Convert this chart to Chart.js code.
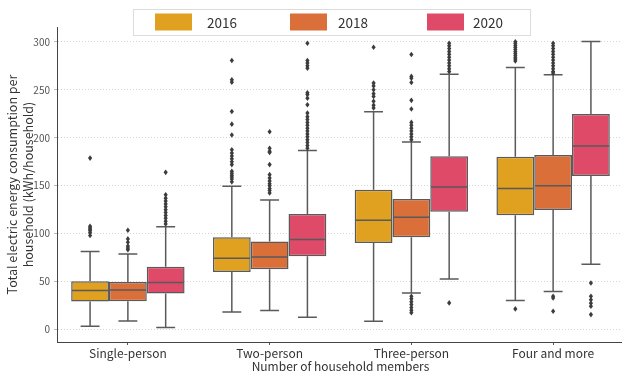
<!DOCTYPE html>
<html>
<head>
<meta charset="utf-8">
<script src="https://cdn.jsdelivr.net/npm/chart.js@4.4.1/dist/chart.umd.min.js"></script>
<style>
  html, body { margin: 0; padding: 0; overflow: hidden; background: #fff; }
  #wrap { width: 624px; height: 374px; position: relative; }
</style>
</head>
<body>
<div id="wrap"><canvas id="c"></canvas></div>
<script>
// Household groups and survey years
const categories = ['Single-person', 'Two-person', 'Three-person', 'Four and more'];
const years = ['2016', '2018', '2020'];
const yTicks = [0, 50, 100, 150, 200, 250, 300];

// Box statistics per year (kWh/household), one value per household group
const q1_2016 = [29.2, 60.1, 90.3, 119.1];
const med_2016 = [40.6, 74.3, 113.9, 147.2];
const q3_2016 = [50.3, 96.2, 145.8, 180.2];
const lo_2016 = [3.5, 18.4, 8.7, 30.2];
const hi_2016 = [81.3, 149.3, 227.0, 273.3];
const out_2016 = [
  [178.8, 107.6, 106, 104.5, 103, 101, 98],
  [280.6, 260.4, 258, 227.4, 214.2, 202.8, 187.5, 184, 181, 178, 175, 172, 165, 163, 161, 159, 157, 154],
  [294.4, 257, 254, 250, 246, 243, 238, 234, 231],
  [300, 298, 296, 294, 292, 290, 288, 286, 284, 282, 280, 21.5]
];

const q1_2018 = [29.5, 62.8, 96.2, 124.7];
const med_2018 = [41.3, 75.7, 117.0, 150.0];
const q3_2018 = [49.6, 91.7, 136.1, 181.9];
const lo_2018 = [9.0, 19.8, 38.2, 39.6];
const hi_2018 = [78.8, 135.0, 195.5, 265.6];
const out_2018 = [
  [103.5, 94.5, 91, 87, 85, 83.3],
  [206.3, 189, 186, 184.7, 172, 161.5, 158, 155, 152, 150, 147, 145, 142.4],
  [286.8, 264, 262, 257.6, 239, 230, 216, 213, 210, 207, 204, 201, 198, 34.7, 32, 29, 26, 23, 20, 17.5],
  [298.6, 296, 293, 290, 287, 284, 281, 278, 275, 272, 269, 267.4, 34.7, 33, 19.1]
];

const q1_2020 = [37.5, 76.4, 122.9, 160.1];
const med_2020 = [49.0, 93.8, 148.6, 191.3];
const q3_2020 = [65.6, 120.5, 180.6, 224.7];
const lo_2020 = [2.0, 12.8, 52.8, 68.1];
const hi_2020 = [107.3, 186.8, 266.3, 300.3];
const out_2020 = [
  [163.9, 140.6, 137, 134, 131, 128, 125, 122, 119, 116, 113, 110],
  [298.6, 280.6, 278, 275, 272.6, 247, 245, 241.3, 234.4, 225.7, 222, 219, 216, 213, 210, 207, 204, 201, 198, 195, 192, 189],
  [298.6, 296, 293, 290, 287, 284, 281, 278, 275, 272, 269, 27.8],
  [48.6, 34.7, 31, 27.5, 24.3, 15.6]
];

const yearColors = ['#E0A120', '#DA6F3A', '#DE4A68'];

const stats = [
  { q1: q1_2016, med: med_2016, q3: q3_2016, lo: lo_2016, hi: hi_2016, out: out_2016 },
  { q1: q1_2018, med: med_2018, q3: q3_2018, lo: lo_2018, hi: hi_2018, out: out_2018 },
  { q1: q1_2020, med: med_2020, q3: q3_2020, lo: lo_2020, hi: hi_2020, out: out_2020 }
];

const FONT = "'Noto Sans CJK KR', 'Noto Sans', sans-serif";
const LINE = '#5a5a5a';

// Boxes are floating bars from Q1 to Q3
const datasets = years.map((yr, d) => ({
  label: yr,
  data: categories.map((_, i) => [stats[d].q1[i], stats[d].q3[i]]),
  backgroundColor: yearColors[d],
  borderColor: LINE,
  borderWidth: 1.5,
  borderSkipped: false,
  barPercentage: 1.0,
  categoryPercentage: 0.8
}));

// Whiskers, caps, medians and outlier diamonds on top of each box
const boxDetails = {
  id: 'boxDetails',
  afterDatasetsDraw(chart) {
    const ctx = chart.ctx;
    const ys = chart.scales.y;
    ctx.save();
    stats.forEach((s, d) => {
      const meta = chart.getDatasetMeta(d);
      meta.data.forEach((bar, i) => {
        const x = bar.x;
        const half = bar.width / 2;
        const cap = bar.width / 4;
        const yQ1 = ys.getPixelForValue(s.q1[i]);
        const yQ3 = ys.getPixelForValue(s.q3[i]);
        const yLo = ys.getPixelForValue(s.lo[i]);
        const yHi = ys.getPixelForValue(s.hi[i]);
        const yMed = ys.getPixelForValue(s.med[i]);
        ctx.strokeStyle = LINE;
        ctx.lineWidth = 1.5;
        ctx.beginPath();
        ctx.moveTo(x, yQ3); ctx.lineTo(x, yHi);
        ctx.moveTo(x, yQ1); ctx.lineTo(x, yLo);
        ctx.moveTo(x - cap, yHi); ctx.lineTo(x + cap, yHi);
        ctx.moveTo(x - cap, yLo); ctx.lineTo(x + cap, yLo);
        ctx.moveTo(x - half + 0.75, yMed); ctx.lineTo(x + half - 0.75, yMed);
        ctx.stroke();
        ctx.fillStyle = '#3c3c3c';
        s.out[i].forEach(v => {
          const py = ys.getPixelForValue(v);
          ctx.beginPath();
          ctx.moveTo(x, py - 2.8);
          ctx.lineTo(x + 2.1, py);
          ctx.lineTo(x, py + 2.8);
          ctx.lineTo(x - 2.1, py);
          ctx.closePath();
          ctx.fill();
        });
      });
    });
    ctx.restore();
  },
  afterDraw(chart) {
    // framed legend across the top
    const ctx = chart.ctx;
    ctx.save();
    ctx.fillStyle = 'rgba(255,255,255,0.9)';
    ctx.fillRect(133, 9, 397, 26);
    ctx.strokeStyle = '#dcdcdc';
    ctx.lineWidth = 1;
    ctx.strokeRect(133.5, 9.5, 397, 26);
    const swatchX = [155, 290, 427];
    const textX = [207, 338, 473];
    ctx.font = '13.5px ' + FONT;
    ctx.textBaseline = 'middle';
    ctx.textAlign = 'left';
    years.forEach((yr, d) => {
      ctx.fillStyle = yearColors[d];
      ctx.fillRect(swatchX[d], 13.5, 37, 17);
      ctx.fillStyle = '#333';
      ctx.fillText(yr, textX[d], 22.5);
    });
    ctx.restore();
  }
};

new Chart(document.getElementById('c'), {
  type: 'bar',
  data: { labels: categories, datasets },
  options: {
    responsive: true,
    maintainAspectRatio: false,
    animation: false,
    layout: { padding: { top: 27, left: 0, right: 0, bottom: 0 } },
    plugins: { legend: { display: false }, tooltip: { enabled: false } },
    scales: {
      x: {
        type: 'category',
        offset: true,
        afterFit(scale) { scale.height = 32; },
        grid: { display: true, drawOnChartArea: false, offset: false, tickLength: 3, tickColor: '#555', lineWidth: 1 },
        border: { display: true, color: '#444', width: 1 },
        ticks: { color: '#333', font: { family: FONT, size: 12 }, padding: 1, maxRotation: 0 },
        title: { display: true, text: 'Number of household members', color: '#333', font: { family: FONT, size: 12, lineHeight: 1.2 }, padding: { top: 0, bottom: 0 } }
      },
      y: {
        min: -13,
        max: 315.5,
        afterFit(scale) { scale.width = 57; },
        afterBuildTicks(scale) { scale.ticks = yTicks.map(v => ({ value: v })); },
        grid: { color: '#d6d6d6', lineWidth: 1, tickLength: 3, tickColor: '#bbb' },
        border: { display: true, color: '#444', width: 1, dash: [1, 2] },
        ticks: { color: '#555', font: { family: FONT, size: 10 }, padding: 4 },
        title: {
          display: true,
          text: ['Total electric energy consumption per', 'household (kWh/household)'],
          color: '#333',
          font: { family: FONT, size: 12.5, lineHeight: 1.22 },
          padding: { top: 5, bottom: 0 }
        }
      }
    }
  },
  plugins: [boxDetails]
});
</script>
</body>
</html>
